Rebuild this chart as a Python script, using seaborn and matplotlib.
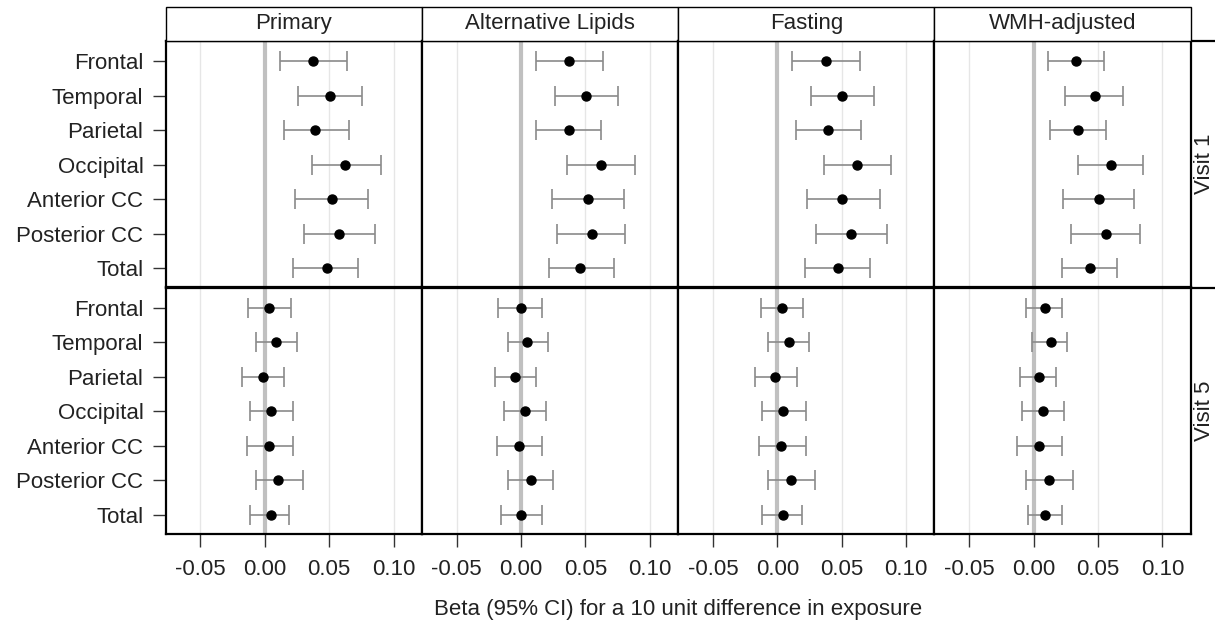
import numpy as np
import pandas as pd
import matplotlib
matplotlib.use("Agg")
import matplotlib.pyplot as plt
import seaborn as sns
from matplotlib.patches import Rectangle

regions = ["Frontal", "Temporal", "Parietal", "Occipital", "Anterior CC", "Posterior CC", "Total"]
models = ["Primary", "Alternative Lipids", "Fasting", "WMH-adjusted"]
visits = ["Visit 1", "Visit 5"]
x_ticks = [-0.05, 0.0, 0.05, 0.10]
x_tick_labels = ["-0.05", "0.00", "0.05", "0.10"]
x_label = "Beta (95% CI) for a 10 unit difference in exposure"

# Visit 1
primary_v1_est = [0.0376, 0.0506, 0.0390, 0.0625, 0.0519, 0.0578, 0.0480]
primary_v1_lo = [0.0117, 0.0260, 0.0148, 0.0366, 0.0233, 0.0304, 0.0221]
primary_v1_hi = [0.0641, 0.0752, 0.0653, 0.0900, 0.0799, 0.0858, 0.0723]
altlip_v1_est = [0.0373, 0.0505, 0.0373, 0.0622, 0.0518, 0.0550, 0.0461]
altlip_v1_lo = [0.0114, 0.0260, 0.0114, 0.0360, 0.0243, 0.0275, 0.0215]
altlip_v1_hi = [0.0638, 0.0749, 0.0622, 0.0884, 0.0796, 0.0810, 0.0723]
fasting_v1_est = [0.0376, 0.0503, 0.0392, 0.0622, 0.0503, 0.0575, 0.0474]
fasting_v1_lo = [0.0117, 0.0264, 0.0145, 0.0363, 0.0231, 0.0303, 0.0218]
fasting_v1_hi = [0.0640, 0.0752, 0.0653, 0.0882, 0.0796, 0.0855, 0.0723]
wmh_v1_est = [0.0332, 0.0474, 0.0347, 0.0604, 0.0505, 0.0565, 0.0435]
wmh_v1_lo = [0.0114, 0.0244, 0.0127, 0.0345, 0.0231, 0.0293, 0.0218]
wmh_v1_hi = [0.0544, 0.0692, 0.0562, 0.0853, 0.0778, 0.0824, 0.0651]
# Visit 5
primary_v5_est = [0.0031, 0.0088, -0.0018, 0.0047, 0.0031, 0.0104, 0.0047]
primary_v5_lo = [-0.0129, -0.0070, -0.0176, -0.0117, -0.0142, -0.0070, -0.0117]
primary_v5_hi = [0.0202, 0.0246, 0.0148, 0.0221, 0.0221, 0.0293, 0.0189]
altlip_v5_est = [0.0000, 0.0047, -0.0047, 0.0031, -0.0018, 0.0073, 0.0000]
altlip_v5_lo = [-0.0176, -0.0098, -0.0202, -0.0132, -0.0189, -0.0103, -0.0158]
altlip_v5_hi = [0.0161, 0.0207, 0.0114, 0.0192, 0.0161, 0.0246, 0.0161]
fasting_v5_est = [0.0034, 0.0088, -0.0016, 0.0047, 0.0031, 0.0104, 0.0047]
fasting_v5_lo = [-0.0129, -0.0073, -0.0171, -0.0119, -0.0145, -0.0073, -0.0119]
fasting_v5_hi = [0.0202, 0.0249, 0.0151, 0.0223, 0.0223, 0.0295, 0.0190]
wmh_v5_est = [0.0088, 0.0132, 0.0044, 0.0073, 0.0044, 0.0117, 0.0088]
wmh_v5_lo = [-0.0057, -0.0013, -0.0104, -0.0091, -0.0132, -0.0057, -0.0041]
wmh_v5_hi = [0.0220, 0.0259, 0.0176, 0.0236, 0.0220, 0.0306, 0.0220]

series = [
    ("Visit 1", "Primary", primary_v1_est, primary_v1_lo, primary_v1_hi),
    ("Visit 1", "Alternative Lipids", altlip_v1_est, altlip_v1_lo, altlip_v1_hi),
    ("Visit 1", "Fasting", fasting_v1_est, fasting_v1_lo, fasting_v1_hi),
    ("Visit 1", "WMH-adjusted", wmh_v1_est, wmh_v1_lo, wmh_v1_hi),
    ("Visit 5", "Primary", primary_v5_est, primary_v5_lo, primary_v5_hi),
    ("Visit 5", "Alternative Lipids", altlip_v5_est, altlip_v5_lo, altlip_v5_hi),
    ("Visit 5", "Fasting", fasting_v5_est, fasting_v5_lo, fasting_v5_hi),
    ("Visit 5", "WMH-adjusted", wmh_v5_est, wmh_v5_lo, wmh_v5_hi),
]
rows = []
for visit, model, est, lo, hi in series:
    for r, e, l, h in zip(regions, est, lo, hi):
        rows.append({"visit": visit, "model": model, "region": r, "est": e, "lo": l, "hi": h})
df = pd.DataFrame(rows)
df["region"] = pd.Categorical(df["region"], categories=regions, ordered=True)

sns.set_theme(style="white")
plt.rcParams["font.family"] = ["Liberation Sans", "DejaVu Sans"]
FS = 16
TXT = "#222222"

g = sns.FacetGrid(df, row="visit", col="model", row_order=visits, col_order=models,
                  sharex=True, sharey=True, height=2.465, aspect=1.04, despine=False)


def draw(data, **kws):
    ax = plt.gca()
    ypos = data["region"].cat.codes.to_numpy()
    est = data["est"].to_numpy()
    lo = data["lo"].to_numpy()
    hi = data["hi"].to_numpy()
    ax.axvline(0, color="#c0c0c0", lw=3.0, zorder=1)
    ax.errorbar(est, ypos, xerr=[est - lo, hi - est], fmt="none", ecolor="#8a8a8a",
                elinewidth=1.2, capsize=7, capthick=1.2, zorder=2)
    ax.plot(est, ypos, "o", color="black", ms=6.5, ls="none", zorder=3)


g.map_dataframe(draw)
g.set_titles("")
g.set_axis_labels("", "")

fig = g.figure
fig.set_size_inches(12.15, 6.23)

ax_h_px = (534 - 41) / 2
ax_w_px = (1190.7 - 165.7) / 4

for (i, j), ax in np.ndenumerate(g.axes):
    ax.set_xlim(-0.077, 0.122)
    ax.set_ylim(6.55, -0.58)
    ax.set_xticks(x_ticks)
    ax.set_yticks(range(len(regions)))
    ax.set_xticklabels(x_tick_labels)
    ax.set_yticklabels(regions)
    ax.grid(axis="x", color="#e6e6e6", lw=1.0, zorder=0)
    ax.grid(axis="y", visible=False)
    ax.set_axisbelow(True)
    for sp in ax.spines.values():
        sp.set_color("black")
        sp.set_linewidth(1.6)
    ax.tick_params(axis="both", which="major", length=9.5, width=1.0, color="#333333",
                   labelsize=FS, labelcolor=TXT)
    ax.tick_params(axis="x", bottom=(i == 1), labelbottom=(i == 1), pad=8.5)
    ax.tick_params(axis="y", left=(j == 0), labelleft=(j == 0), pad=6.5)
    if i == 0:
        sh = 34 / ax_h_px
        ax.add_patch(Rectangle((0, 1), 1, sh, transform=ax.transAxes, clip_on=False,
                               facecolor="white", edgecolor="black", lw=1.0, zorder=5))
        ax.text(0.5, 1 + sh / 2, models[j], transform=ax.transAxes, ha="center",
                va="center", fontsize=FS, color=TXT, zorder=6)
    if j == 3:
        ext = (1215 - 1190.7) / ax_w_px + 0.01
        ax.text(1 + 14 / ax_w_px, 0.5, visits[i], transform=ax.transAxes, rotation=90,
                ha="center", va="center", fontsize=FS, color=TXT)
        ax.plot([1, 1 + ext], [1, 1], transform=ax.transAxes, clip_on=False,
                color="black", lw=1.6)

fig.subplots_adjust(left=165.7 / 1215, right=1190.7 / 1215, top=1 - 41 / 623,
                    bottom=1 - 534 / 623, wspace=0, hspace=0)
fig.text((165.7 + 1190.7) / 2 / 1215, 1 - 615 / 623, x_label, ha="center",
         va="baseline", fontsize=FS, color=TXT)

fig.savefig("out.png", dpi=100)
